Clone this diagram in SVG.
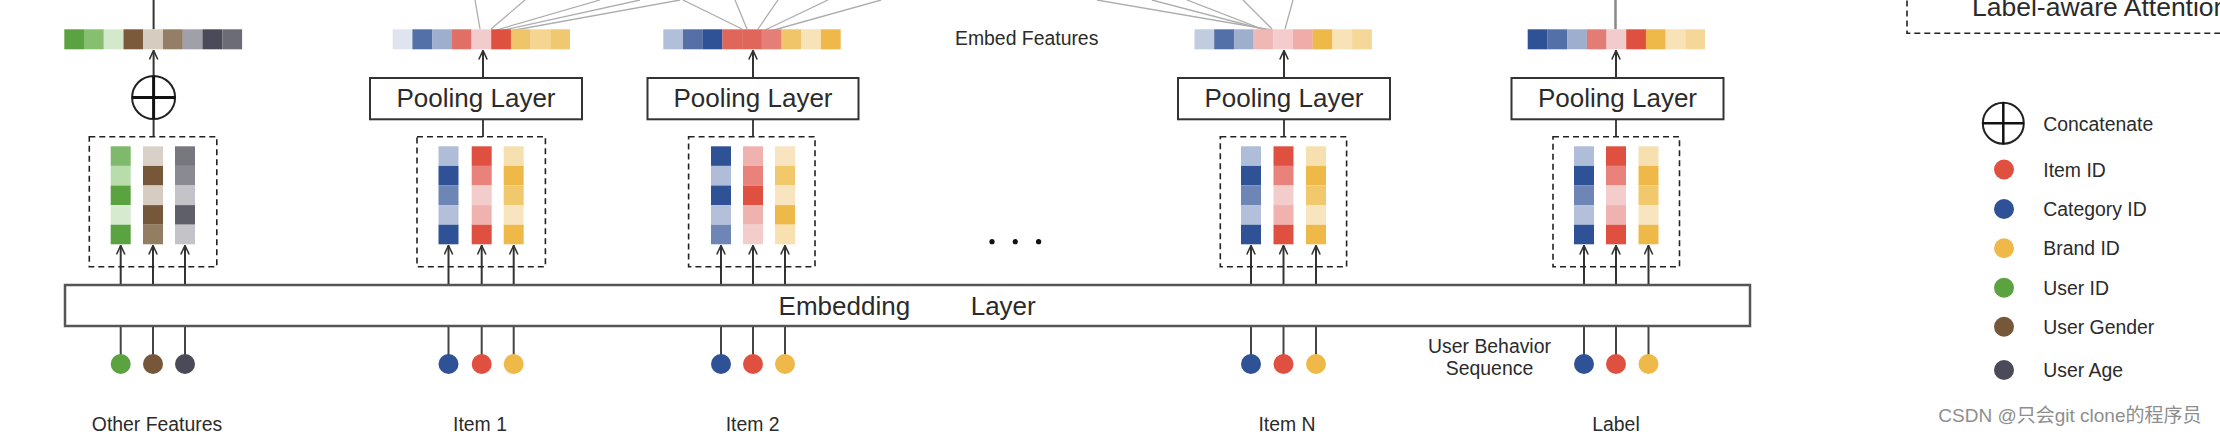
<svg xmlns="http://www.w3.org/2000/svg" width="2220" height="436" viewBox="0 0 2220 436">
<style>
text{font-family:"Liberation Sans",Arial,"Noto Sans CJK SC",sans-serif;fill:#2b2b2b}
.lbl{font-size:19.4px}
.big{font-size:26px}
.pool{fill:#fff;stroke:#333;stroke-width:2}
.dash{fill:none;stroke:#222;stroke-width:1.6;stroke-dasharray:6 4}
.arr{stroke:#333;stroke-width:2;fill:none;marker-end:url(#ah)}
.ln{stroke:#444;stroke-width:2;fill:none}
.fan{stroke:#adadad;stroke-width:1.3;fill:none}
.cross{stroke:#111;stroke-width:3}
.ring{fill:none;stroke:#222;stroke-width:2}
</style>
<defs>
<marker id="ah" viewBox="0 0 10 10" refX="9.5" refY="5" markerUnits="userSpaceOnUse" markerWidth="10" markerHeight="10" orient="auto">
<path d="M0.5,0.8 L9.5,5 L0.5,9.2" fill="none" stroke="#333" stroke-width="1.6"/>
</marker>
</defs>
<rect width="2220" height="436" fill="#fff"/>

<!-- connectors -->
<g id="connectors">
  <!-- attention fan lines -->
  <line class="fan" x1="475" y1="0" x2="480" y2="29"/>
  <line class="fan" x1="525" y1="0" x2="491" y2="29"/>
  <line class="fan" x1="600" y1="0" x2="493" y2="31"/>
  <line class="fan" x1="640" y1="0" x2="493" y2="32.5"/>
  <line class="fan" x1="680" y1="0" x2="493" y2="34"/>
  <line class="fan" x1="683" y1="0" x2="742" y2="29"/>
  <line class="fan" x1="735" y1="0" x2="747" y2="29"/>
  <line class="fan" x1="778" y1="0" x2="758" y2="29"/>
  <line class="fan" x1="828" y1="0" x2="763" y2="31"/>
  <line class="fan" x1="881" y1="0" x2="763" y2="33"/>
  <line class="fan" x1="1097" y1="0" x2="1272" y2="30"/>
  <line class="fan" x1="1152" y1="0" x2="1272" y2="31.5"/>
  <line class="fan" x1="1187" y1="0" x2="1272" y2="33"/>
  <line class="fan" x1="1243" y1="0" x2="1272" y2="29"/>
  <line class="fan" x1="1293" y1="0" x2="1285" y2="29"/>
  <!-- top verticals -->
  <line x1="153.6" y1="0" x2="153.6" y2="29.3" stroke="#333" stroke-width="2"/>
  <line x1="1615.5" y1="0" x2="1615.5" y2="29.3" stroke="#888" stroke-width="2.5"/>
  <!-- concat path -->
  <line class="arr" x1="153.6" y1="137" x2="153.6" y2="50.5"/>
  <!-- pooling arrows -->
  <line class="ln" x1="483" y1="137" x2="483" y2="119"/>
  <line class="arr" x1="483" y1="78" x2="483" y2="50.5"/>
  <line class="ln" x1="753" y1="137" x2="753" y2="119"/>
  <line class="arr" x1="753" y1="78" x2="753" y2="50.5"/>
  <line class="ln" x1="1284" y1="137" x2="1284" y2="119"/>
  <line class="arr" x1="1284" y1="78" x2="1284" y2="50.5"/>
  <line class="ln" x1="1616" y1="137" x2="1616" y2="119"/>
  <line class="arr" x1="1616" y1="78" x2="1616" y2="50.5"/>
  <!-- embedding to columns -->
  <line class="arr" x1="120.7" y1="285" x2="120.7" y2="245.5"/>
  <line class="arr" x1="153" y1="285" x2="153" y2="245.5"/>
  <line class="arr" x1="185" y1="285" x2="185" y2="245.5"/>
  <line class="arr" x1="448.5" y1="285" x2="448.5" y2="245.5"/>
  <line class="arr" x1="481.7" y1="285" x2="481.7" y2="245.5"/>
  <line class="arr" x1="513.7" y1="285" x2="513.7" y2="245.5"/>
  <line class="arr" x1="721" y1="285" x2="721" y2="245.5"/>
  <line class="arr" x1="753" y1="285" x2="753" y2="245.5"/>
  <line class="arr" x1="785" y1="285" x2="785" y2="245.5"/>
  <line class="arr" x1="1251" y1="285" x2="1251" y2="245.5"/>
  <line class="arr" x1="1283.5" y1="285" x2="1283.5" y2="245.5"/>
  <line class="arr" x1="1316" y1="285" x2="1316" y2="245.5"/>
  <line class="arr" x1="1584" y1="285" x2="1584" y2="245.5"/>
  <line class="arr" x1="1616" y1="285" x2="1616" y2="245.5"/>
  <line class="arr" x1="1648.5" y1="285" x2="1648.5" y2="245.5"/>
  <!-- inputs to embedding -->
  <line class="ln" x1="120.7" y1="326" x2="120.7" y2="356"/>
  <line class="ln" x1="153" y1="326" x2="153" y2="356"/>
  <line class="ln" x1="185" y1="326" x2="185" y2="356"/>
  <line class="ln" x1="448.5" y1="326" x2="448.5" y2="356"/>
  <line class="ln" x1="481.7" y1="326" x2="481.7" y2="356"/>
  <line class="ln" x1="513.7" y1="326" x2="513.7" y2="356"/>
  <line class="ln" x1="721" y1="326" x2="721" y2="356"/>
  <line class="ln" x1="753" y1="326" x2="753" y2="356"/>
  <line class="ln" x1="785" y1="326" x2="785" y2="356"/>
  <line class="ln" x1="1251" y1="326" x2="1251" y2="356"/>
  <line class="ln" x1="1283.5" y1="326" x2="1283.5" y2="356"/>
  <line class="ln" x1="1316" y1="326" x2="1316" y2="356"/>
  <line class="ln" x1="1584" y1="326" x2="1584" y2="356"/>
  <line class="ln" x1="1616" y1="326" x2="1616" y2="356"/>
  <line class="ln" x1="1648.5" y1="326" x2="1648.5" y2="356"/>
</g>

<!-- Embedding layer -->
<g id="embedding-layer">
  <rect x="65" y="285" width="1685" height="41" fill="#fff" stroke="#555" stroke-width="2.5"/>
  <text class="big"><tspan x="778.6" y="315">Embedding</tspan><tspan x="970.7" y="315">Layer</tspan></text>
</g>

<!-- Other features -->
<g id="other-features">
  <g>
    <rect x="64.3" y="29.3" width="19.8" height="20" fill="#5ba240"/>
    <rect x="84" y="29.3" width="19.8" height="20" fill="#86bf70"/>
    <rect x="103.8" y="29.3" width="19.8" height="20" fill="#d4e8cc"/>
    <rect x="123.5" y="29.3" width="19.8" height="20" fill="#7a5a3a"/>
    <rect x="143.3" y="29.3" width="19.8" height="20" fill="#d6ccc0"/>
    <rect x="163" y="29.3" width="19.8" height="20" fill="#947e66"/>
    <rect x="182.8" y="29.3" width="19.8" height="20" fill="#a0a0a8"/>
    <rect x="202.5" y="29.3" width="19.8" height="20" fill="#4a4a58"/>
    <rect x="222.3" y="29.3" width="19.8" height="20" fill="#6c6c76"/>
  </g>
  <g id="concat">
    <circle cx="153.6" cy="97.5" r="21.5" fill="#fff" stroke="#222" stroke-width="2"/>
    <line class="cross" x1="132" y1="97.5" x2="175.2" y2="97.5"/>
    <line class="cross" x1="153.6" y1="76" x2="153.6" y2="119"/>
  </g>
  <rect class="dash" x="89.3" y="136.7" width="127.5" height="130"/>
  <g>
    <rect x="110.7" y="146.3" width="20" height="19.6" fill="#7fb96b"/>
    <rect x="110.7" y="165.9" width="20" height="19.6" fill="#b9dcab"/>
    <rect x="110.7" y="185.5" width="20" height="19.6" fill="#5ba240"/>
    <rect x="110.7" y="205.1" width="20" height="19.6" fill="#d6ead0"/>
    <rect x="110.7" y="224.7" width="20" height="19.6" fill="#5ba240"/>
    <rect x="143" y="146.3" width="20" height="19.6" fill="#d9d1c8"/>
    <rect x="143" y="165.9" width="20" height="19.6" fill="#77573a"/>
    <rect x="143" y="185.5" width="20" height="19.6" fill="#d6ccc1"/>
    <rect x="143" y="205.1" width="20" height="19.6" fill="#77573a"/>
    <rect x="143" y="224.7" width="20" height="19.6" fill="#937d63"/>
    <rect x="175" y="146.3" width="20" height="19.6" fill="#77777f"/>
    <rect x="175" y="165.9" width="20" height="19.6" fill="#8a8a92"/>
    <rect x="175" y="185.5" width="20" height="19.6" fill="#c3c3c8"/>
    <rect x="175" y="205.1" width="20" height="19.6" fill="#5f5f6a"/>
    <rect x="175" y="224.7" width="20" height="19.6" fill="#c3c3c8"/>
  </g>
  <circle cx="120.7" cy="364" r="10" fill="#5ba240"/>
  <circle cx="153" cy="364" r="10" fill="#77573a"/>
  <circle cx="185" cy="364" r="10" fill="#4a4a58"/>
  <text class="lbl" x="157" y="430.7" text-anchor="middle">Other Features</text>
</g>

<!-- Item 1 -->
<g id="item-1">
  <g>
    <rect x="392.7" y="29.3" width="19.8" height="20" fill="#dfe4ef"/>
    <rect x="412.4" y="29.3" width="19.8" height="20" fill="#5470a8"/>
    <rect x="432.1" y="29.3" width="19.8" height="20" fill="#9eaecd"/>
    <rect x="451.8" y="29.3" width="19.8" height="20" fill="#e07065"/>
    <rect x="471.5" y="29.3" width="19.8" height="20" fill="#f2cccc"/>
    <rect x="491.2" y="29.3" width="19.8" height="20" fill="#e05040"/>
    <rect x="510.9" y="29.3" width="19.8" height="20" fill="#f0c468"/>
    <rect x="530.6" y="29.3" width="19.8" height="20" fill="#f5d590"/>
    <rect x="550.3" y="29.3" width="19.7" height="20" fill="#f0c870"/>
  </g>
  <rect class="pool" x="370" y="78" width="212" height="41.3"/>
  <text class="big" x="476" y="106.5" text-anchor="middle">Pooling Layer</text>
  <rect class="dash" x="417" y="136.7" width="128.4" height="130"/>
  <g>
    <rect x="438.5" y="146.3" width="20" height="19.6" fill="#b0bdd9"/>
    <rect x="438.5" y="165.9" width="20" height="19.6" fill="#2f5296"/>
    <rect x="438.5" y="185.5" width="20" height="19.6" fill="#6e86b6"/>
    <rect x="438.5" y="205.1" width="20" height="19.6" fill="#b4c0da"/>
    <rect x="438.5" y="224.7" width="20" height="19.6" fill="#2f5296"/>
    <rect x="471.7" y="146.3" width="20" height="19.6" fill="#e05040"/>
    <rect x="471.7" y="165.9" width="20" height="19.6" fill="#e8827a"/>
    <rect x="471.7" y="185.5" width="20" height="19.6" fill="#f3cdcb"/>
    <rect x="471.7" y="205.1" width="20" height="19.6" fill="#f0b2ae"/>
    <rect x="471.7" y="224.7" width="20" height="19.6" fill="#e05040"/>
    <rect x="503.7" y="146.3" width="20" height="19.6" fill="#f7e0b0"/>
    <rect x="503.7" y="165.9" width="20" height="19.6" fill="#efb94a"/>
    <rect x="503.7" y="185.5" width="20" height="19.6" fill="#f2c86c"/>
    <rect x="503.7" y="205.1" width="20" height="19.6" fill="#f8e5c0"/>
    <rect x="503.7" y="224.7" width="20" height="19.6" fill="#efb94a"/>
  </g>
  <circle cx="448.5" cy="364" r="10" fill="#2f5296"/>
  <circle cx="481.7" cy="364" r="10" fill="#e05040"/>
  <circle cx="513.7" cy="364" r="10" fill="#efb94a"/>
  <text class="lbl" x="480" y="430.7" text-anchor="middle">Item 1</text>
</g>

<!-- Item 2 -->
<g id="item-2">
  <g>
    <rect x="663.3" y="29.3" width="19.8" height="20" fill="#b1bfdb"/>
    <rect x="683" y="29.3" width="19.8" height="20" fill="#5670a7"/>
    <rect x="702.7" y="29.3" width="19.8" height="20" fill="#2f5296"/>
    <rect x="722.4" y="29.3" width="19.8" height="20" fill="#e0655a"/>
    <rect x="742.1" y="29.3" width="19.8" height="20" fill="#e0655a"/>
    <rect x="761.8" y="29.3" width="19.8" height="20" fill="#e47e76"/>
    <rect x="781.5" y="29.3" width="19.8" height="20" fill="#f0c468"/>
    <rect x="801.2" y="29.3" width="19.8" height="20" fill="#f8e2b8"/>
    <rect x="820.9" y="29.3" width="19.8" height="20" fill="#efb94a"/>
  </g>
  <rect class="pool" x="647.5" y="78" width="211" height="41.3"/>
  <text class="big" x="753" y="106.5" text-anchor="middle">Pooling Layer</text>
  <rect class="dash" x="688.6" y="136.7" width="126.4" height="130"/>
  <g>
    <rect x="711" y="146.3" width="20" height="19.6" fill="#2f5296"/>
    <rect x="711" y="165.9" width="20" height="19.6" fill="#b0bdd9"/>
    <rect x="711" y="185.5" width="20" height="19.6" fill="#2f5296"/>
    <rect x="711" y="205.1" width="20" height="19.6" fill="#b4c0da"/>
    <rect x="711" y="224.7" width="20" height="19.6" fill="#6e86b6"/>
    <rect x="743" y="146.3" width="20" height="19.6" fill="#f0b2ae"/>
    <rect x="743" y="165.9" width="20" height="19.6" fill="#e8827a"/>
    <rect x="743" y="185.5" width="20" height="19.6" fill="#e05040"/>
    <rect x="743" y="205.1" width="20" height="19.6" fill="#f0b2ae"/>
    <rect x="743" y="224.7" width="20" height="19.6" fill="#f3cdcb"/>
    <rect x="775" y="146.3" width="20" height="19.6" fill="#f8e5c0"/>
    <rect x="775" y="165.9" width="20" height="19.6" fill="#f2c86c"/>
    <rect x="775" y="185.5" width="20" height="19.6" fill="#f8e5c0"/>
    <rect x="775" y="205.1" width="20" height="19.6" fill="#efb94a"/>
    <rect x="775" y="224.7" width="20" height="19.6" fill="#f8e0b0"/>
  </g>
  <circle cx="721" cy="364" r="10" fill="#2f5296"/>
  <circle cx="753" cy="364" r="10" fill="#e05040"/>
  <circle cx="785" cy="364" r="10" fill="#efb94a"/>
  <text class="lbl" x="752.6" y="430.7" text-anchor="middle">Item 2</text>
</g>

<g id="ellipsis">
  <circle cx="992" cy="241.7" r="2.6" fill="#111"/>
  <circle cx="1015.3" cy="241.7" r="2.6" fill="#111"/>
  <circle cx="1038.6" cy="241.7" r="2.6" fill="#111"/>
</g>

<g id="embed-features-label">
  <text class="lbl" x="955" y="45">Embed Features</text>
</g>

<!-- Item N -->
<g id="item-n">
  <g>
    <rect x="1194.5" y="29.3" width="19.8" height="20" fill="#c0cce0"/>
    <rect x="1214.2" y="29.3" width="19.8" height="20" fill="#5470a8"/>
    <rect x="1233.9" y="29.3" width="19.8" height="20" fill="#9eaecd"/>
    <rect x="1253.6" y="29.3" width="19.8" height="20" fill="#f0b8b4"/>
    <rect x="1273.3" y="29.3" width="19.8" height="20" fill="#f4cccc"/>
    <rect x="1293" y="29.3" width="19.8" height="20" fill="#f0aca8"/>
    <rect x="1312.7" y="29.3" width="19.8" height="20" fill="#efb94a"/>
    <rect x="1332.4" y="29.3" width="19.8" height="20" fill="#f8e2b8"/>
    <rect x="1352.1" y="29.3" width="19.8" height="20" fill="#f5d898"/>
  </g>
  <rect class="pool" x="1178" y="78" width="212" height="41.3"/>
  <text class="big" x="1284" y="106.5" text-anchor="middle">Pooling Layer</text>
  <rect class="dash" x="1220.3" y="136.7" width="126.3" height="130"/>
  <g>
    <rect x="1241" y="146.3" width="20" height="19.6" fill="#b0bdd9"/>
    <rect x="1241" y="165.9" width="20" height="19.6" fill="#2f5296"/>
    <rect x="1241" y="185.5" width="20" height="19.6" fill="#6e86b6"/>
    <rect x="1241" y="205.1" width="20" height="19.6" fill="#b4c0da"/>
    <rect x="1241" y="224.7" width="20" height="19.6" fill="#2f5296"/>
    <rect x="1273.5" y="146.3" width="20" height="19.6" fill="#e05040"/>
    <rect x="1273.5" y="165.9" width="20" height="19.6" fill="#e8827a"/>
    <rect x="1273.5" y="185.5" width="20" height="19.6" fill="#f3cdcb"/>
    <rect x="1273.5" y="205.1" width="20" height="19.6" fill="#f0b2ae"/>
    <rect x="1273.5" y="224.7" width="20" height="19.6" fill="#e05040"/>
    <rect x="1306" y="146.3" width="20" height="19.6" fill="#f7e0b0"/>
    <rect x="1306" y="165.9" width="20" height="19.6" fill="#efb94a"/>
    <rect x="1306" y="185.5" width="20" height="19.6" fill="#f2c86c"/>
    <rect x="1306" y="205.1" width="20" height="19.6" fill="#f8e5c0"/>
    <rect x="1306" y="224.7" width="20" height="19.6" fill="#efb94a"/>
  </g>
  <circle cx="1251" cy="364" r="10" fill="#2f5296"/>
  <circle cx="1283.5" cy="364" r="10" fill="#e05040"/>
  <circle cx="1316" cy="364" r="10" fill="#efb94a"/>
  <text class="lbl" x="1287" y="430.7" text-anchor="middle">Item N</text>
</g>

<g id="user-behavior-label">
  <text class="lbl" text-anchor="middle"><tspan x="1489.5" y="353.3">User Behavior</tspan><tspan x="1489.5" y="375.3">Sequence</tspan></text>
</g>

<!-- Label -->
<g id="label-item">
  <g>
    <rect x="1527.7" y="29.3" width="19.8" height="20" fill="#2f5296"/>
    <rect x="1547.4" y="29.3" width="19.8" height="20" fill="#5470a8"/>
    <rect x="1567.1" y="29.3" width="19.8" height="20" fill="#9eaecd"/>
    <rect x="1586.8" y="29.3" width="19.8" height="20" fill="#e37c74"/>
    <rect x="1606.5" y="29.3" width="19.8" height="20" fill="#f2cccc"/>
    <rect x="1626.2" y="29.3" width="19.8" height="20" fill="#e05040"/>
    <rect x="1645.9" y="29.3" width="19.8" height="20" fill="#efb94a"/>
    <rect x="1665.6" y="29.3" width="19.8" height="20" fill="#f8e2b8"/>
    <rect x="1685.3" y="29.3" width="19.7" height="20" fill="#f5d898"/>
  </g>
  <rect class="pool" x="1511.5" y="78" width="212" height="41.3"/>
  <text class="big" x="1617.5" y="106.5" text-anchor="middle">Pooling Layer</text>
  <rect class="dash" x="1553" y="136.7" width="126.5" height="130"/>
  <g>
    <rect x="1574" y="146.3" width="20" height="19.6" fill="#b0bdd9"/>
    <rect x="1574" y="165.9" width="20" height="19.6" fill="#2f5296"/>
    <rect x="1574" y="185.5" width="20" height="19.6" fill="#6e86b6"/>
    <rect x="1574" y="205.1" width="20" height="19.6" fill="#b4c0da"/>
    <rect x="1574" y="224.7" width="20" height="19.6" fill="#2f5296"/>
    <rect x="1606" y="146.3" width="20" height="19.6" fill="#e05040"/>
    <rect x="1606" y="165.9" width="20" height="19.6" fill="#e8827a"/>
    <rect x="1606" y="185.5" width="20" height="19.6" fill="#f3cdcb"/>
    <rect x="1606" y="205.1" width="20" height="19.6" fill="#f0b2ae"/>
    <rect x="1606" y="224.7" width="20" height="19.6" fill="#e05040"/>
    <rect x="1638.5" y="146.3" width="20" height="19.6" fill="#f7e0b0"/>
    <rect x="1638.5" y="165.9" width="20" height="19.6" fill="#efb94a"/>
    <rect x="1638.5" y="185.5" width="20" height="19.6" fill="#f2c86c"/>
    <rect x="1638.5" y="205.1" width="20" height="19.6" fill="#f8e5c0"/>
    <rect x="1638.5" y="224.7" width="20" height="19.6" fill="#efb94a"/>
  </g>
  <circle cx="1584" cy="364" r="10" fill="#2f5296"/>
  <circle cx="1616" cy="364" r="10" fill="#e05040"/>
  <circle cx="1648.5" cy="364" r="10" fill="#efb94a"/>
  <text class="lbl" x="1616" y="430.7" text-anchor="middle">Label</text>
</g>

<!-- Label-aware attention (cut off at the top-right edge, as in the picture) -->
<g id="label-aware-attention">
  <rect class="dash" x="1907" y="-30" width="400" height="63.3"/>
  <text x="1972" y="15.5" font-size="26.5">Label-aware Attention</text>
</g>

<!-- Legend -->
<g id="legend">
  <g>
    <circle cx="2003.3" cy="123.3" r="20.5" class="ring"/>
    <line x1="1982.5" y1="123.3" x2="2024" y2="123.3" stroke="#111" stroke-width="2.5"/>
    <line x1="2003.3" y1="102" x2="2003.3" y2="144.5" stroke="#111" stroke-width="2.5"/>
    <text class="lbl" x="2043.3" y="130.5">Concatenate</text>
  </g>
  <g><circle cx="2004" cy="169.5" r="10" fill="#e05040"/><text class="lbl" x="2043.3" y="176.5">Item ID</text></g>
  <g><circle cx="2004" cy="209" r="10" fill="#2f5296"/><text class="lbl" x="2043.3" y="216">Category ID</text></g>
  <g><circle cx="2004" cy="248.3" r="10" fill="#efb94a"/><text class="lbl" x="2043.3" y="255.3">Brand ID</text></g>
  <g><circle cx="2004" cy="287.7" r="10" fill="#5ba240"/><text class="lbl" x="2043.3" y="294.7">User ID</text></g>
  <g><circle cx="2004" cy="326.7" r="10" fill="#77573a"/><text class="lbl" x="2043.3" y="333.7">User Gender</text></g>
  <g><circle cx="2004" cy="370" r="10" fill="#4a4a58"/><text class="lbl" x="2043.3" y="377">User Age</text></g>
</g>

<g id="watermark">
  <text x="1938.3" y="421.7" font-size="19" style="fill:#8e8e8e">CSDN @只会git clone的程序员</text>
</g>
</svg>
